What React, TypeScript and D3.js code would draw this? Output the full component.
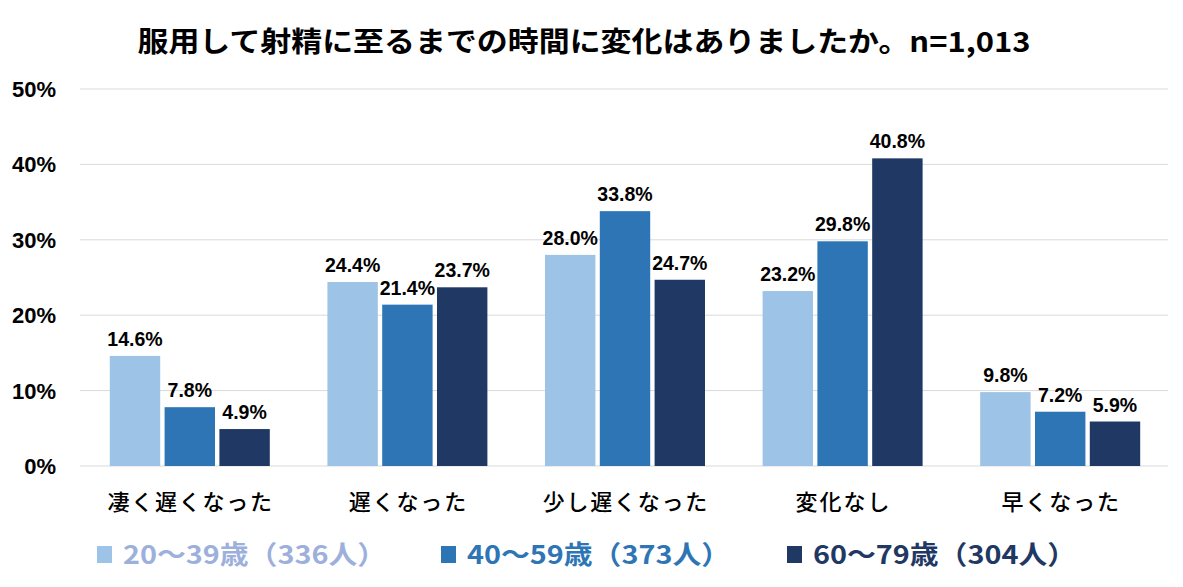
import React, { useEffect, useRef } from 'react';
import * as d3 from 'd3';

const categories = ['凄く遅くなった', '遅くなった', '少し遅くなった', '変化なし', '早くなった'];
const seriesNames = ['20～39歳（336人）', '40～59歳（373人）', '60～79歳（304人）'];
const age20s = [14.6, 24.4, 28.0, 23.2, 9.8];
const age40s = [7.8, 21.4, 33.8, 29.8, 7.2];
const age60s = [4.9, 23.7, 24.7, 40.8, 5.9];
const yTicks = [0, 10, 20, 30, 40, 50];
const colors = ['#9DC3E6', '#2E75B6', '#1F3864'];
const legendTextColors = ['#9DB0DC', '#2E75B6', '#1F3864'];

const FONT = '"Noto Sans CJK JP", "Noto Sans", sans-serif';
const NUM_FONT = '"Liberation Sans", Arial, sans-serif';

function App() {
  const ref = useRef<SVGSVGElement>(null);

  useEffect(() => {
    const width = 1183;
    const height = 587;
    const svg = d3.select(ref.current);
    svg.selectAll('*').remove();

    svg.append('rect')
      .attr('x', 0.5).attr('y', 0.5)
      .attr('width', width - 1).attr('height', height - 1)
      .attr('fill', '#fff').attr('stroke', '#d9d9d9');

    // title
    svg.append('text')
      .attr('x', 584).attr('y', 52)
      .attr('text-anchor', 'middle')
      .style('font-family', FONT)
      .style('font-size', '28px')
      .style('font-weight', 700)
      .attr('textLength', 893)
      .attr('lengthAdjust', 'spacingAndGlyphs')
      .text('服用して射精に至るまでの時間に変化はありましたか。n=1,013');

    const left = 80, right = 1168, top = 89, bottom = 466;
    const groupW = 160;

    const x = d3.scaleBand().domain(categories).range([left, right]);
    const inner = d3.scaleBand().domain(['0', '1', '2']).range([0, groupW]).paddingInner(0.08);
    const y = d3.scaleLinear().domain([0, 50]).range([bottom, top]);

    // gridlines
    svg.append('g').selectAll('line')
      .data(yTicks)
      .enter().append('line')
      .attr('x1', left).attr('x2', right)
      .attr('y1', d => y(d)).attr('y2', d => y(d))
      .attr('stroke', '#d9d9d9').attr('stroke-width', 1);

    // y labels
    svg.append('g').selectAll('text')
      .data(yTicks)
      .enter().append('text')
      .attr('x', 56).attr('y', d => y(d) + 8)
      .attr('text-anchor', 'end')
      .style('font-family', NUM_FONT)
      .style('font-size', '22px')
      .style('font-weight', 700)
      .text(d => `${d}%`);

    const series = [age20s, age40s, age60s];
    const barX = (i: number, si: number) =>
      (x(categories[i]) as number) + (x.bandwidth() - groupW) / 2 + (inner(String(si)) as number) + 1;

    series.forEach((vals, si) => {
      const g = svg.append('g');
      g.selectAll('rect')
        .data(vals)
        .enter().append('rect')
        .attr('x', (d, i) => barX(i, si))
        .attr('y', d => y(d))
        .attr('width', inner.bandwidth())
        .attr('height', d => bottom - y(d))
        .attr('fill', colors[si]);

      g.selectAll('text')
        .data(vals)
        .enter().append('text')
        .attr('x', (d, i) => barX(i, si) + inner.bandwidth() / 2)
        .attr('y', d => y(d) - 10)
        .attr('text-anchor', 'middle')
        .style('font-family', NUM_FONT)
        .style('font-size', '19.5px')
        .style('font-weight', 700)
        .text(d => `${d.toFixed(1)}%`);
    });

    // category labels
    svg.append('g').selectAll('text')
      .data(categories)
      .enter().append('text')
      .attr('x', d => (x(d) as number) + x.bandwidth() / 2 + 1)
      .attr('y', 510)
      .attr('text-anchor', 'middle')
      .style('font-family', FONT)
      .style('font-size', '22px')
      .style('font-weight', 500)
      .attr('textLength', d => d.length * 23.5)
      .attr('lengthAdjust', 'spacing')
      .text(d => d);

    // legend
    const legendX = [97, 441, 787];
    const legend = svg.append('g').selectAll('g')
      .data(seriesNames)
      .enter().append('g')
      .attr('transform', (d, i) => `translate(${legendX[i]}, 552)`);
    legend.append('rect')
      .attr('x', 0).attr('y', -6)
      .attr('width', 15).attr('height', 17)
      .attr('fill', (d, i) => colors[i]);
    legend.append('text')
      .attr('x', 26).attr('y', 12)
      .style('font-family', FONT)
      .style('font-size', '26px')
      .style('font-weight', 700)
      .attr('fill', (d, i) => legendTextColors[i])
      .attr('textLength', 263)
      .attr('lengthAdjust', 'spacingAndGlyphs')
      .text(d => d);
  }, []);

  return (
    <div style={{ margin: '-8px' }}>
      <svg ref={ref} width={1183} height={587} style={{ display: 'block' }} />
    </div>
  );
}

export default App;
